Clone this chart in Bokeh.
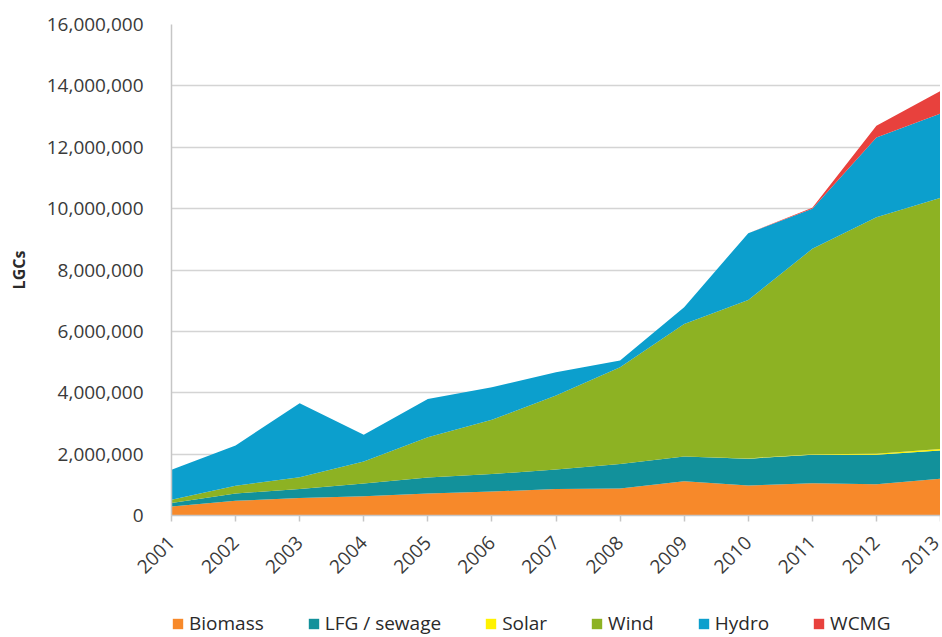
import math
from bokeh.plotting import figure
from bokeh.layouts import column
from bokeh.models import ColumnDataSource, Range1d, FixedTicker, NumeralTickFormatter, Legend
from bokeh.embed import file_html
from bokeh.resources import INLINE

years = [2001, 2002, 2003, 2004, 2005, 2006, 2007, 2008, 2009, 2010, 2011, 2012, 2013]
year_labels = ["2001", "2002", "2003", "2004", "2005", "2006", "2007",
               "2008", "2009", "2010", "2011", "2012", "2013"]
biomass = [290000, 480000, 570000, 630000, 720000, 780000, 860000, 880000,
           1120000, 980000, 1050000, 1020000, 1200000]
lfg = [120000, 240000, 290000, 410000, 520000, 570000, 640000, 800000,
       800000, 870000, 930000, 960000, 920000]
solar = [0, 0, 0, 0, 0, 0, 0, 0, 5000, 10000, 20000, 35000, 50000]
wind = [100000, 250000, 390000, 720000, 1310000, 1770000, 2410000, 3150000,
        4315000, 5160000, 6690000, 7705000, 8180000]
hydro = [980000, 1310000, 2410000, 870000, 1250000, 1060000, 760000, 220000,
         550000, 2180000, 1310000, 2600000, 2750000]
wcmg = [0, 0, 0, 0, 0, 0, 0, 0, 0, 0, 30000, 380000, 730000]

series_names = ["Biomass", "LFG / sewage", "Solar", "Wind", "Hydro", "WCMG"]
series_keys = ["biomass", "lfg", "solar", "wind", "hydro", "wcmg"]
colors = ["#F7892A", "#12919B", "#FFF200", "#8DB223", "#0C9FCD", "#E8413D"]
y_ticks = [0, 2000000, 4000000, 6000000, 8000000, 10000000, 12000000, 14000000, 16000000]

source = ColumnDataSource(dict(year=years, biomass=biomass, lfg=lfg, solar=solar,
                               wind=wind, hydro=hydro, wcmg=wcmg))

FONT = "Open Sans"

p = figure(width=940, height=600, output_backend="svg", toolbar_location=None,
           x_range=Range1d(years[0], years[-1]), y_range=Range1d(y_ticks[0], y_ticks[-1]),
           min_border_left=171, min_border_right=0, min_border_top=24, min_border_bottom=85)
p.outline_line_color = None
p.background_fill_color = "white"

renderers = p.varea_stack(stackers=series_keys, x="year", color=colors, source=source)

# y axis
p.yaxis.ticker = FixedTicker(ticks=y_ticks)
p.yaxis.formatter = NumeralTickFormatter(format="0,0")
p.yaxis.major_tick_line_color = None
p.yaxis.minor_tick_line_color = None
p.yaxis.axis_line_color = "#C6C6C6"
p.yaxis.axis_line_width = 1.5
p.yaxis.major_label_text_font = FONT
p.yaxis.major_label_text_font_size = "19px"
p.yaxis.major_label_text_color = "#3A3A3A"
p.yaxis.major_label_standoff = 22
p.yaxis.axis_label = "LGCs"
p.yaxis.axis_label_text_font = FONT
p.yaxis.axis_label_text_font_style = "bold"
p.yaxis.axis_label_text_font_size = "16px"
p.yaxis.axis_label_text_color = "#2A2A2A"
p.yaxis.axis_label_standoff = 14

# x axis
p.xaxis.ticker = FixedTicker(ticks=years)
p.xaxis.major_label_overrides = dict(zip(years, year_labels))
p.xaxis.major_label_orientation = math.pi / 4
p.xaxis.major_tick_in = 0
p.xaxis.major_tick_out = 6
p.xaxis.major_tick_line_color = "#C6C6C6"
p.xaxis.major_tick_line_width = 1.5
p.xaxis.minor_tick_line_color = None
p.xaxis.axis_line_color = "#C6C6C6"
p.xaxis.axis_line_width = 1.5
p.xaxis.major_label_text_font = FONT
p.xaxis.major_label_text_font_size = "19px"
p.xaxis.major_label_text_color = "#3A3A3A"
p.xaxis.major_label_standoff = 18

p.xgrid.grid_line_color = None
p.ygrid.ticker = FixedTicker(ticks=y_ticks)
p.ygrid.grid_line_color = "#D4D4D4"
p.ygrid.grid_line_width = 1.5

# legend strip below the chart (same series colours and names);
# its swatch renderers sit outside the strip's visible range
pl = figure(width=940, height=37, output_backend="svg", toolbar_location=None,
            x_axis_type=None, y_axis_type=None, min_border=0,
            x_range=Range1d(0, 1), y_range=Range1d(0, 1))
pl.outline_line_color = None
pl.xgrid.grid_line_color = None
pl.ygrid.grid_line_color = None
swatch = ColumnDataSource(dict(x=[5, 6], y1=[5, 5], y2=[6, 6]))
leg_renderers = [pl.varea(x="x", y1="y1", y2="y2", color=c, source=swatch) for c in colors]

lg = Legend(items=[(name, [r]) for name, r in zip(series_names, leg_renderers)])
lg.orientation = "horizontal"
lg.location = (0, 1)
lg.border_line_color = None
lg.background_fill_alpha = 0
lg.padding = 0
lg.margin = 0
lg.spacing = 43
lg.glyph_width = 13
lg.glyph_height = 13
lg.label_standoff = 5
lg.label_text_font = FONT
lg.label_text_font_size = "19px"
lg.label_text_color = "#2A2A2A"
pl.add_layout(lg, "center")

layout = column(p, pl, spacing=0)
open("out.html", "w").write(file_html(layout, INLINE))
